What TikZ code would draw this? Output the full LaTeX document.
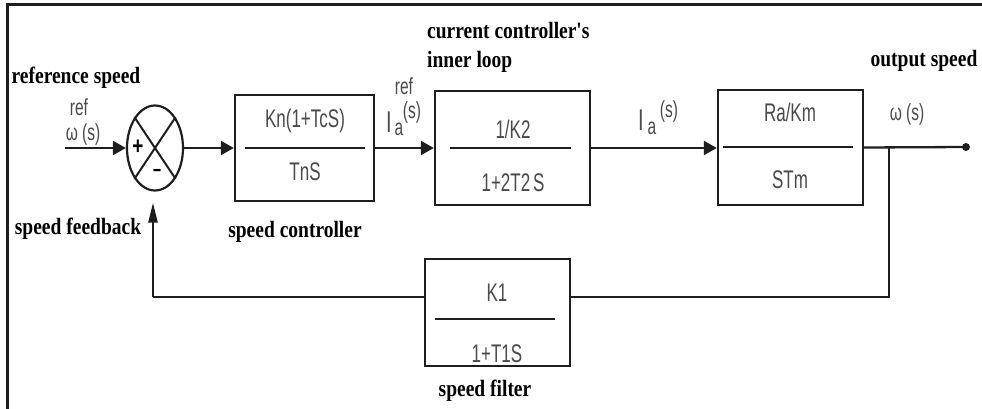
\documentclass[tikz,border=0pt]{standalone}
\usepackage{fontspec}
\setmainfont{Liberation Serif}
\newfontfamily\sansf{Liberation Sans}
\usetikzlibrary{arrows.meta,shapes.geometric}
\definecolor{txtgray}{HTML}{4A4A4A}
\definecolor{linecol}{HTML}{1E1E1E}
\newcommand\stretchtxt[1]{\scalebox{1}[1.5]{#1}}
\newcommand\tallbold[1]{\scalebox{1}[1.2]{#1}}
\tikzset{
  blk/.style={draw=linecol, line width=2.4pt, inner sep=0pt, fill=white},
  btxt/.style={font=\sansf\fontsize{17}{19}\selectfont, text=txtgray, inner sep=0pt},
  stxt/.style={font=\sansf\fontsize{15.5}{17}\selectfont, text=txtgray, inner sep=0pt},
  bigI/.style={font=\sansf\fontsize{20}{22}\selectfont, text=txtgray, inner sep=0pt},
  lbl/.style={font=\bfseries\fontsize{19.5}{22}\selectfont, text=black, inner sep=0pt},
  conn/.style={draw=linecol, line width=2.3pt},
  harr/.style={conn, -{Triangle[length=13pt,width=14pt]}},
  varr/.style={conn, -{Triangle[length=20pt,width=9pt]}},
  fracline/.style={draw=linecol, line width=2.3pt}
}
\begin{document}
\begin{tikzpicture}[x=1pt,y=-1pt]
\useasboundingbox (0,0) rectangle (982,409);
% frame (top and left edges only)
\draw[line width=3pt, draw=linecol] (7,409) -- (7,5) -- (982,5);

% summing junction
\node[ellipse, draw=linecol, line width=2.2pt, minimum width=56pt, minimum height=85pt, inner sep=0pt] (sj) at (155,148) {};
\draw[line width=2pt, draw=linecol] (sj.north west) -- (sj.south east);
\draw[line width=2pt, draw=linecol] (sj.north east) -- (sj.south west);
\node[font=\sansf\bfseries\fontsize{19}{21}\selectfont, inner sep=0pt] (plus) at (138,147) {\scalebox{1}[1.3]{+}};
\node[font=\sansf\bfseries\fontsize{19}{21}\selectfont, inner sep=0pt] (minus) at (157,172) {\scalebox{1.5}[1]{-}};

% blocks
\node[blk, minimum width=139pt, minimum height=106pt] (b1) at (304.5,148) {};
\node[blk, minimum width=155pt, minimum height=114pt] (b2) at (512.5,148) {};
\node[blk, minimum width=145pt, minimum height=115pt] (b3) at (790.5,147.5) {};
\node[blk, minimum width=145pt, minimum height=107pt] (flt) at (497.5,312.5) {};

% block contents
\node[btxt] (b1n) at (305,121) {\stretchtxt{Kn(1+TcS)}};
\node[btxt] (b1d) at (305,172) {\stretchtxt{TnS}};
\draw[fracline] (245,148) -- (365,148);

\node[btxt] (b2n) at (513,129) {\stretchtxt{1/K2}};
\node[btxt] (b2d) at (513,183) {\stretchtxt{1+2T2\,S}};
\draw[fracline] (450,148) -- (571,148);

\node[btxt] (b3n) at (790,112) {\stretchtxt{Ra/Km}};
\node[btxt] (b3d) at (790,180) {\stretchtxt{STm}};
\draw[fracline] (723,147) -- (853,147);

\node[btxt] (fn) at (497,293) {\stretchtxt{K1}};
\node[btxt] (fd) at (497,354) {\stretchtxt{1+T1S}};
\draw[fracline] (435,319) -- (555,319);

% connectors
\coordinate (inp) at (65,148);
\coordinate (br) at (889,147);
\coordinate (fbR) at (889,297);
\coordinate (fbL) at (153,297);
\node[circle, fill=linecol, inner sep=0pt, minimum size=8pt] (outdot) at (966,147) {};

\draw[harr] (inp) -- (sj.west);
\draw[harr] (sj.east) -- (b1.west);
\draw[harr] (b1.east) -- (b2.west);
\draw[harr] (b2.east) -- (b2.east -| b3.west);
\draw[conn] (b3.east) -- (outdot.center);
\draw[conn] (br) -- (fbR) -- (fbR -| flt.east);
\draw[conn] (fbR -| flt.west) -- (fbL);
\draw[varr, shorten >=11pt] (fbL) -- (fbL |- sj.south);

% signal labels
\node[stxt] (refin) at (79,107) {\stretchtxt{ref}};
\node[stxt] (wsin) at (83,134) {\stretchtxt{ω (s)}};

\node[stxt] (refia) at (404,86) {\stretchtxt{ref}};
\node[bigI] (ia1I) at (389,122) {\stretchtxt{I}};
\node[stxt] (ia1a) at (399,129) {\stretchtxt{a}};
\node[stxt] (ia1s) at (412,112) {\stretchtxt{(s)}};

\node[bigI] (ia2I) at (641,120) {\stretchtxt{I}};
\node[stxt] (ia2a) at (652,128) {\stretchtxt{a}};
\node[stxt] (ia2s) at (669,111) {\stretchtxt{(s)}};

\node[stxt] (wsout) at (907,114) {\stretchtxt{ω (s)}};

% descriptive labels
\node[lbl] (lref) at (76,78) {\tallbold{reference speed}};
\node[lbl] (lfb) at (78,229) {\tallbold{speed feedback}};
\node[lbl] (lsc) at (295,232) {\tallbold{speed controller}};
\node[lbl, anchor=west] (lcc1) at (427,31) {\tallbold{current controller\textquotesingle s}};
\node[lbl, anchor=west] (lcc2) at (427,62) {\tallbold{inner loop}};
\node[lbl] (lout) at (924,61) {\tallbold{output speed}};
\node[lbl] (lsf) at (485,391) {\tallbold{speed filter}};
\end{tikzpicture}
\end{document}
